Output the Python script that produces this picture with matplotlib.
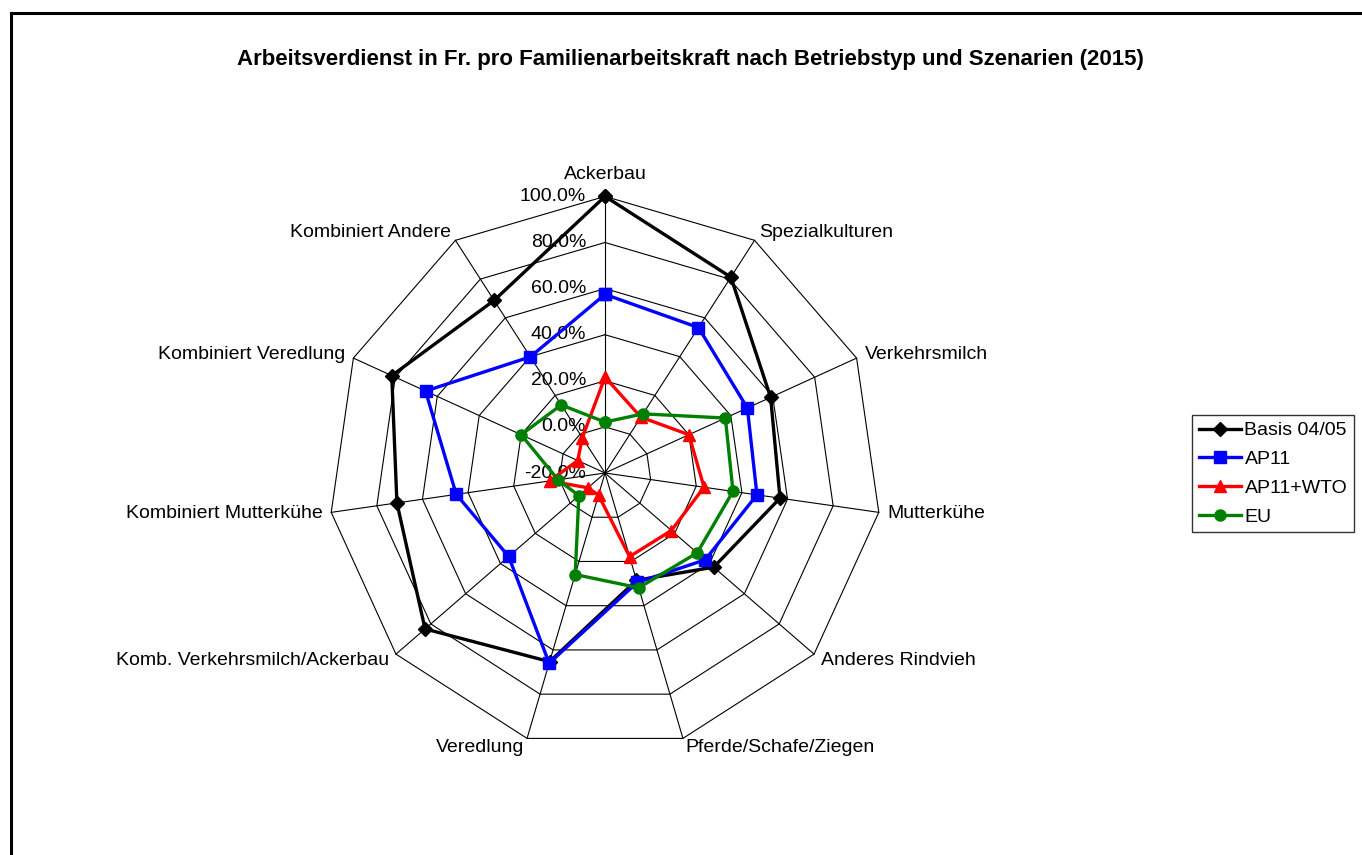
import numpy as np
import matplotlib
matplotlib.use("Agg")
import matplotlib.pyplot as plt
from matplotlib.patches import Rectangle

plt.rcParams['font.family'] = ['Liberation Sans', 'DejaVu Sans']

categories = ["Ackerbau", "Spezialkulturen", "Verkehrsmilch", "Mutterkühe",
              "Anderes Rindvieh", "Pferde/Schafe/Ziegen", "Veredlung",
              "Komb. Verkehrsmilch/Ackerbau", "Kombiniert Mutterkühe",
              "Kombiniert Veredlung", "Kombiniert Andere"]
series_names = ["Basis 04/05", "AP11", "AP11+WTO", "EU"]
basis = [1.00, 0.81, 0.59, 0.567, 0.424, 0.285, 0.653, 0.833, 0.712, 0.817, 0.69]
ap11 = [0.575, 0.55, 0.479, 0.466, 0.375, 0.295, 0.66, 0.353, 0.452, 0.656, 0.399]
ap11_wto = [0.216, 0.088, 0.20, 0.234, 0.181, 0.178, -0.10, -0.102, 0.043, -0.07, -0.018]
eu = [0.021, 0.105, 0.374, 0.361, 0.329, 0.319, 0.259, -0.05, 0.006, 0.20, 0.151]
ticks = [-0.2, 0.0, 0.2, 0.4, 0.6, 0.8, 1.0]
tick_labels = ["-20.0%", "0.0%", "20.0%", "40.0%", "60.0%", "80.0%", "100.0%"]
title = "Arbeitsverdienst in Fr. pro Familienarbeitskraft nach Betriebstyp und Szenarien (2015)"

W, H = 1362, 855
fig = plt.figure(figsize=(W / 100, H / 100), dpi=100)

# outer frame
fig.patches.append(Rectangle((11 / W, -0.1), 1.2, (H - 13) / H + 0.1, transform=fig.transFigure,
                             fill=False, edgecolor='black', linewidth=2.2))

fig.text(690 / W, 1 - 59 / H, title, ha='center', va='center', fontsize=16, fontweight='bold')

cx, cy, R = 605, 473, 276.6
ax = fig.add_axes([(cx - R) / W, (H - cy - R) / H, 2 * R / W, 2 * R / H], projection='polar')
ax.set_theta_zero_location('N')
ax.set_theta_direction(-1)
ax.set_ylim(-0.2, 1.0)
ax.grid(False)
ax.spines['polar'].set_visible(False)
ax.set_xticks([])
ax.set_yticks([])
ax.patch.set_alpha(0)

n = len(categories)
theta = np.arange(n) * 2 * np.pi / n
theta_c = np.append(theta, theta[0])

# polygon grid
for t in ticks[1:]:
    ax.plot(theta_c, [t] * (n + 1), color='black', lw=0.8, zorder=1, clip_on=False)
for th in theta:
    ax.plot([th, th], [-0.2, 1.0], color='black', lw=0.8, zorder=1, clip_on=False)

# radial tick labels
for t, lab in zip(ticks, tick_labels):
    ax.annotate(lab, xy=(0, t), xytext=(-19, 0), textcoords='offset pixels',
                ha='right', va='center', fontsize=14, zorder=2, annotation_clip=False)

# category labels
for th, lab in zip(theta, categories):
    s, c = np.sin(th), np.cos(th)
    if abs(s) < 1e-6 and c > 0:
        ax.annotate(lab, xy=(th, 1.0), xytext=(0, 17), textcoords='offset pixels',
                    ha='center', va='baseline', fontsize=14, annotation_clip=False)
    else:
        ha = 'left' if s > 0 else 'right'
        ax.annotate(lab, xy=(th, 1.0), xytext=(9 * s, 9 * c), textcoords='offset pixels',
                    ha=ha, va='center', fontsize=14, annotation_clip=False)

styles = [
    dict(color='black', marker='D', ms=7),
    dict(color='#0000FF', marker='s', ms=8.5),
    dict(color='#FF0000', marker='^', ms=9),
    dict(color='#008000', marker='o', ms=8),
]
data = [basis, ap11, ap11_wto, eu]
handles = []
for name, vals, st in zip(series_names, data, styles):
    v = np.append(vals, vals[0])
    h, = ax.plot(theta_c, v, lw=2.4, color=st['color'], marker=st['marker'],
                 ms=st['ms'], mfc=st['color'], mec=st['color'], zorder=3,
                 clip_on=False, label=name)
    handles.append(h)

leg = fig.legend(handles=handles, loc='upper left', bbox_to_anchor=(1192 / W, 1 - 415 / H),
                 borderaxespad=0, fontsize=14, frameon=True, fancybox=False,
                 handlelength=2.15, handletextpad=0.2, labelspacing=0.57, borderpad=0.35)
leg.get_frame().set_edgecolor('black')
leg.get_frame().set_linewidth(1.0)

fig.savefig("out.png", dpi=100)
